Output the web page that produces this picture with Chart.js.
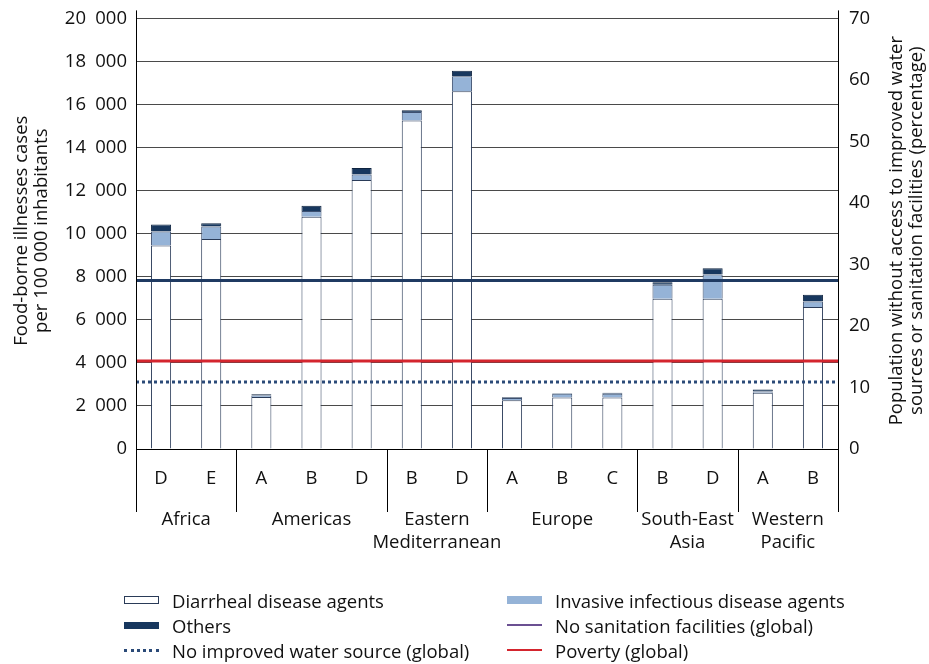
<!DOCTYPE html>
<html>
<head>
<meta charset="utf-8">
<script src="https://cdn.jsdelivr.net/npm/chart.js@4.4.1/dist/chart.umd.min.js"></script>
<style>
  body { margin: 0; background: #fff; font-family: 'Open Sans', sans-serif; }
  .wrap { position: relative; width: 929px; height: 664px; }
  canvas { position: absolute; left: 0; top: 0; }
  .legend { position: absolute; left: 124px; top: 589px; display: grid;
    grid-template-columns: 383px 340px; row-gap: 3px; font-size: 18.5px; color: #111; }
  .legend div { display: flex; align-items: center; height: 22px; white-space: nowrap; }
  .legend i { display: inline-block; width: 35px; margin-right: 13px; box-sizing: border-box; }
</style>
</head>
<body>
<div class="wrap">
  <canvas id="chart" width="929" height="664"></canvas>
  <div class="legend" id="legend"></div>
</div>
<script>
const subregions = ['D', 'E', 'A', 'B', 'D', 'B', 'D', 'A', 'B', 'C', 'B', 'D', 'A', 'B'];
const regions = [['Africa'], ['Americas'], ['Eastern', 'Mediterranean'], ['Europe'], ['South-East', 'Asia'], ['Western', 'Pacific']];
const regionSizes = [2, 3, 2, 3, 2, 2];

const diarrheal = [9450, 9750, 2420, 10790, 12490, 15260, 16620, 2270, 2390, 2390, 6980, 6980, 2610, 6590];
const invasive = [650, 590, 60, 260, 260, 390, 690, 100, 180, 180, 650, 1130, 60, 260];
const others = [330, 140, 60, 250, 300, 80, 260, 30, 20, 40, 120, 290, 90, 310];

// global percentages (right axis)
const noSanitation = 27.4;
const noWater = 10.9;
const poverty = 14.3;

const leftTicks = [0, 20000, 2000];
const rightTicks = [0, 70, 10];

const FONT = "'Open Sans', sans-serif";
const SIZE = 18.5;

function spaced(v) {
  return String(v).replace(/\B(?=(\d{3})+(?!\d))/g, '\u2002');
}

function flat(v) {
  return [{ x: 0, y: v }, { x: 1, y: v }];
}

const extras = {
  id: 'extras',
  afterDraw(chart) {
    const { ctx, chartArea: { left, right, top, bottom } } = chart;
    const x = chart.scales.x;
    ctx.save();
    ctx.strokeStyle = '#000';
    ctx.lineWidth = 1;
    // axis lines run a bit above the plot
    ctx.beginPath();
    ctx.moveTo(left + 0.5, top - 8);
    ctx.lineTo(left + 0.5, bottom);
    ctx.moveTo(right + 0.5, top - 8);
    ctx.lineTo(right + 0.5, bottom);
    ctx.stroke();

    // region separators and names
    const step = x.getPixelForValue(1) - x.getPixelForValue(0);
    let idx = 0;
    ctx.fillStyle = '#111';
    ctx.font = `${SIZE}px ${FONT}`;
    ctx.textAlign = 'center';
    ctx.textBaseline = 'middle';
    const edges = [];
    regionSizes.forEach((n, r) => {
      const x0 = x.getPixelForValue(idx) - step / 2;
      const x1 = x.getPixelForValue(idx + n - 1) + step / 2;
      edges.push(x0);
      if (r === regionSizes.length - 1) edges.push(x1);
      regions[r].forEach((line, k) => {
        ctx.fillText(line, (x0 + x1) / 2, bottom + 71 + k * 23);
      });
      idx += n;
    });
    ctx.beginPath();
    edges.forEach((e) => {
      ctx.moveTo(Math.round(e) + 0.5, bottom);
      ctx.lineTo(Math.round(e) + 0.5, bottom + 63);
    });
    ctx.stroke();

    // axis titles, both read bottom to top
    const midY = (top + bottom) / 2;
    const titles = [
      [22, ['Food-borne illnesses cases', 'per 100 000 inhabitants']],
      [897, ['Population without access to improved water', 'sources or sanitation facilities (percentage)']],
    ];
    titles.forEach(([tx, lines]) => {
      lines.forEach((line, k) => {
        ctx.save();
        ctx.translate(tx + k * 20, midY - 3);
        ctx.rotate(-Math.PI / 2);
        ctx.fillText(line, 0, 0);
        ctx.restore();
      });
    });
    ctx.restore();
  },
};

const chart = new Chart(document.getElementById('chart'), {
  type: 'bar',
  data: {
    labels: subregions,
    datasets: [
      { type: 'line', label: 'No sanitation facilities (global)', data: flat(noSanitation),
        xAxisID: 'x2', yAxisID: 'y2', borderColor: '#1f3a62', borderWidth: 3, pointRadius: 0, order: 0 },
      { type: 'line', label: 'Poverty (global)', data: flat(poverty),
        xAxisID: 'x2', yAxisID: 'y2', borderColor: '#d4252e', borderWidth: 3, pointRadius: 0, order: 0 },
      { type: 'line', label: 'No improved water source (global)', data: flat(noWater),
        xAxisID: 'x2', yAxisID: 'y2', borderColor: '#2b4a78', borderWidth: 3, borderDash: [3, 3],
        pointRadius: 0, order: 0 },
      { label: 'Diarrheal disease agents', data: diarrheal, backgroundColor: '#ffffff',
        borderColor: '#2a3b58', borderWidth: 1, order: 1 },
      { label: 'Invasive infectious disease agents', data: invasive, backgroundColor: '#95b3d7',
        borderColor: '#3d5070', borderWidth: 1, order: 1 },
      { label: 'Others', data: others, backgroundColor: '#17375e',
        borderColor: '#0f2440', borderWidth: 1, order: 1 },
    ],
  },
  options: {
    responsive: false,
    animation: false,
    events: [],
    layout: { padding: { top: 0 } },
    datasets: { bar: { grouped: false, barPercentage: 0.4, categoryPercentage: 1 } },
    plugins: { legend: { display: false }, tooltip: { enabled: false } },
    scales: {
      x: {
        stacked: true,
        grid: { display: false },
        border: { color: '#000' },
        ticks: { color: '#111', font: { family: FONT, size: SIZE }, padding: 11 },
        afterFit(s) { s.height = 215; },
      },
      x2: { type: 'linear', min: 0, max: 1, offset: false, display: false },
      y: {
        stacked: true,
        min: leftTicks[0], max: leftTicks[1],
        grid: { color: '#4a4a4a', drawTicks: false },
        border: { display: false },
        ticks: { stepSize: leftTicks[2], color: '#111', padding: 9,
          font: { family: FONT, size: SIZE, lineHeight: 0.8 }, callback: (v) => spaced(v) },
        afterFit(s) { s.width = 136; },
      },
      y2: {
        position: 'right',
        min: rightTicks[0], max: rightTicks[1],
        grid: { drawOnChartArea: false, drawTicks: false },
        border: { display: false },
        ticks: { stepSize: rightTicks[2], color: '#111', padding: 11,
          font: { family: FONT, size: SIZE, lineHeight: 0.8 } },
        afterFit(s) { s.width = 91; },
      },
    },
  },
  plugins: [extras],
});

// legend in two columns, same order as the reference
const legendOrder = [
  ['Diarrheal disease agents', 'height:8px;border:1.5px solid #2a3b58;background:#fff'],
  ['Invasive infectious disease agents', 'height:8px;background:#95b3d7'],
  ['Others', 'height:7px;background:#17375e'],
  ['No sanitation facilities (global)', 'height:2px;background:#6b5092'],
  ['No improved water source (global)', 'height:0;border-top:3px dotted #2b4a78'],
  ['Poverty (global)', 'height:2.5px;background:#d4252e'],
];
document.getElementById('legend').innerHTML = legendOrder
  .map(([t, s]) => `<div><i style="${s}"></i>${t}</div>`).join('');
</script>
</body>
</html>
